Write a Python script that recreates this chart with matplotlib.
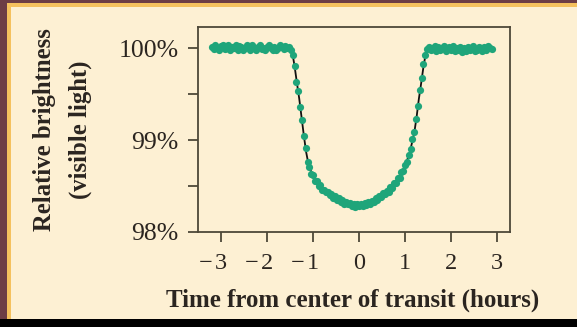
import matplotlib
matplotlib.use("Agg")
import matplotlib.pyplot as plt
from matplotlib.patches import Rectangle

# measured light curve (hours from mid-transit, relative brightness in %)
obs_time = [
    -3.20, -3.16, -3.12, -3.08, -3.04, -3.00, -2.96, -2.92, -2.88, -2.84,
    -2.80, -2.76, -2.72, -2.68, -2.64, -2.60, -2.56, -2.52, -2.48, -2.44,
    -2.40, -2.36, -2.32, -2.28, -2.24, -2.20, -2.16, -2.12, -2.08, -2.04,
    -2.00, -1.96, -1.92, -1.88, -1.84, -1.80, -1.76, -1.72, -1.68, -1.64,
    -1.60, -1.56, -1.52, -1.48, -1.44, -1.40, -1.36, -1.32, -1.28, -1.24,
    -1.20, -1.16, -1.12, -1.08, -1.04, -1.00, -0.96, -0.92, -0.88, -0.84,
    -0.80, -0.76, -0.72, -0.68, -0.64, -0.60, -0.56, -0.52, -0.48, -0.44,
    -0.40, -0.36, -0.32, -0.28, -0.24, -0.20, -0.16, -0.12, -0.08, -0.04,
    0.00, 0.04, 0.08, 0.12, 0.16, 0.20, 0.24, 0.28, 0.32, 0.36,
    0.40, 0.44, 0.48, 0.52, 0.56, 0.60, 0.64, 0.68, 0.72, 0.76,
    0.80, 0.84, 0.88, 0.92, 0.96, 1.00, 1.04, 1.08, 1.12, 1.16,
    1.20, 1.24, 1.28, 1.32, 1.36, 1.40, 1.44, 1.48, 1.52, 1.56,
    1.60, 1.64, 1.68, 1.72, 1.76, 1.80, 1.84, 1.88, 1.92, 1.96,
    2.00, 2.04, 2.08, 2.12, 2.16, 2.20, 2.24, 2.28, 2.32, 2.36,
    2.40, 2.44, 2.48, 2.52, 2.56, 2.60, 2.64, 2.68, 2.72, 2.76,
    2.80, 2.84, 2.88,
]
obs_brightness = [
    100.01, 99.99, 100.03, 100.00, 99.98, 100.02, 100.03, 99.99, 100.00, 100.03,
    99.98, 100.01, 100.00, 100.03, 99.98, 100.02, 100.01, 99.98, 100.00, 100.03,
    100.01, 99.98, 100.03, 100.00, 99.98, 100.01, 100.03, 99.99, 100.00, 99.98,
    100.01, 100.03, 100.00, 99.98, 100.01, 99.98, 100.00, 100.03, 100.01, 99.99,
    100.02, 100.00, 100.01,
    99.98, 99.92, 99.81, 99.63, 99.53, 99.36, 99.22, 99.04, 98.91, 98.76,
    98.71, 98.63,
    98.62, 98.56, 98.55, 98.50, 98.51, 98.46, 98.46, 98.43, 98.43, 98.40,
    98.41, 98.37, 98.39, 98.35, 98.37, 98.33, 98.35, 98.31, 98.33, 98.30,
    98.32, 98.28, 98.31, 98.27, 98.30, 98.28, 98.31, 98.28, 98.32, 98.29,
    98.33, 98.31, 98.34, 98.33, 98.37, 98.35, 98.39, 98.38, 98.42, 98.41,
    98.45, 98.44, 98.49, 98.48, 98.53, 98.53, 98.59, 98.59, 98.65, 98.66,
    98.73, 98.76, 98.84, 98.90, 99.01, 99.09, 99.23, 99.37, 99.55, 99.67,
    99.83, 99.92, 99.99,
    100.01, 99.98, 100.00, 100.02, 99.97, 100.01, 99.98, 100.00, 100.02, 99.97,
    100.00, 100.01, 99.98, 100.02, 99.97, 100.00, 99.98, 100.01, 99.96, 100.00,
    99.97, 100.01, 99.98, 100.00, 100.02, 99.97, 99.98, 100.01, 100.00, 99.97,
    100.01, 99.98, 100.02, 100.00, 99.99,
]

# fitted model curve
model_time = [-3.20, -1.60, -1.50, -1.45, -1.40, -1.35, -1.30, -1.25, -1.20,
              -1.15, -1.10, -1.00, -0.85, -0.70, -0.50, -0.30, -0.10, 0.00,
              0.20, 0.40, 0.60, 0.80, 0.90, 1.00, 1.10, 1.15, 1.20, 1.25,
              1.30, 1.35, 1.40, 1.45, 1.50, 1.55, 2.92]
model_brightness = [100.00, 100.00, 99.99, 99.95, 99.80, 99.62, 99.45, 99.25,
                    99.05, 98.87, 98.74, 98.60, 98.49, 98.43, 98.37, 98.32,
                    98.30, 98.30, 98.32, 98.36, 98.44, 98.55, 98.62, 98.72,
                    98.86, 98.97, 99.08, 99.25, 99.45, 99.62, 99.80, 99.94,
                    99.99, 100.00, 100.00]

x_ticks = [-3, -2, -1, 0, 1, 2, 3]
y_ticks = [98, 99, 100]
y_ticklabels = ["98%", "99%", "100%"]
y_minor = [98.5, 99.5]

W, H = 577, 327
cream = "#fdf0d3"
ink = "#2b2520"
axis_col = "#4d4838"
green = "#1fa57a"
serif = ["Liberation Serif", "DejaVu Serif"]

fig = plt.figure(figsize=(W / 100, H / 100), dpi=100, facecolor=cream)

# frame decorations (pixel measurements -> figure fractions)
def px_rect(x0, y0, x1, y1, color):
    fig.add_artist(Rectangle((x0 / W, 1 - y1 / H), (x1 - x0) / W, (y1 - y0) / H,
                             transform=fig.transFigure, facecolor=color,
                             edgecolor="none", zorder=0))

px_rect(0, 0, 7, H, "#6d3d45")
px_rect(0, 0, W, 3, "#6d3d45")
px_rect(7, 3, 11, 319, "#f5c15e")
px_rect(7, 3, W, 7, "#f5c15e")
px_rect(0, 319, W, H, "#000000")

ax = fig.add_axes([198 / W, 1 - 232 / H, (510 - 198) / W, (232 - 27) / H])
ax.set_facecolor(cream)

ax.plot(model_time, model_brightness, color="#111111", lw=1.3, zorder=2)
ax.plot(obs_time, obs_brightness, "o", color=green, ms=5.2, mew=0, zorder=3)

ax.set_xlim(-3.5, 3.28)
ax.set_ylim(98, 100.23)

# x tick labels: digit centred on the tick, minus sign hanging to the left
ax.set_xticks(x_ticks)
ax.set_xticklabels([])
for v in x_ticks:
    ax.annotate(str(abs(v)), xy=(v, 0), xycoords=("data", "axes fraction"),
                xytext=(0, -26.5), textcoords="offset points", ha="center",
                va="baseline", family=serif, fontsize=17.5, color=ink,
                annotation_clip=False)
    if v < 0:
        ax.annotate("\u2212", xy=(v, 0), xycoords=("data", "axes fraction"),
                    xytext=(-6.5, -26.5), textcoords="offset points", ha="right",
                    va="baseline", family=serif, fontsize=17.5, color=ink,
                    annotation_clip=False)

ax.set_yticks(y_ticks)
ax.set_yticklabels(y_ticklabels, family=serif, fontsize=18.5, color=ink)
ax.set_yticks(y_minor, minor=True)

ax.tick_params(axis="both", which="both", direction="out", length=7,
               width=1.3, color=axis_col)
ax.tick_params(axis="y", pad=7)
for s in ax.spines.values():
    s.set_color(axis_col)
    s.set_linewidth(1.3)

fig.text(45 / W, 1 - 130 / H, "Relative brightness", rotation=90,
         ha="center", va="center", family=serif, fontweight="bold",
         fontsize=17.8, color=ink)
fig.text(80 / W, 1 - 130 / H, "(visible light)", rotation=90,
         ha="center", va="center", family=serif, fontweight="bold",
         fontsize=17.8, color=ink)
fig.text(353 / W, 1 - 307 / H, "Time from center of transit (hours)",
         ha="center", va="baseline", family=serif, fontweight="bold",
         fontsize=18, color=ink)

fig.savefig("out.png", dpi=100, facecolor=cream)
